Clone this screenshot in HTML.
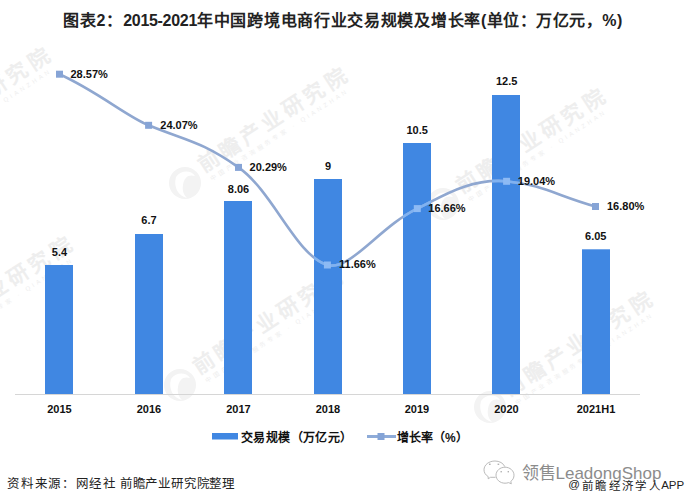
<!DOCTYPE html>
<html lang="zh-CN"><head><meta charset="utf-8">
<style>
html,body{margin:0;padding:0;background:#fff;}
body{width:686px;height:504px;overflow:hidden;position:relative;font-family:"Liberation Sans",sans-serif;}
svg{position:absolute;left:0;top:0;}
.t{position:absolute;white-space:nowrap;}
</style></head><body>
<svg width="686" height="504" viewBox="0 0 686 504">
<!-- watermarks -->
<defs>
<g id="wm">
<circle cx="0" cy="0" r="16" fill="#f3f3f3"/>
<path d="M-9,-6 C-4,-13 6,-13 10,-7 C4,-9 -1,-6 -2,2 C-3,8 -1,12 2,15 C-6,13 -12,5 -9,-6 Z" fill="#fff"/>
<g transform="rotate(-33)">
<text x="21" y="2" font-size="21" font-weight="bold" letter-spacing="4.2" fill="#eeeeee">前瞻产业研究院</text>
<text x="24" y="13" font-size="6" letter-spacing="3.2" fill="#eeeeee">中国产业咨询服务专家 · QIANZHAN</text>
</g>
</g>
</defs>
<use href="#wm" x="185" y="183"/>
<use href="#wm" x="443" y="204"/>
<use href="#wm" x="490" y="407"/>
<use href="#wm" x="180" y="385"/>
<use href="#wm" x="-112" y="163"/>
<use href="#wm" x="-90" y="352"/>
<!-- axis -->
<rect x="15" y="394" width="625" height="1" fill="#d6d6d6"/>
<!-- bars -->
<g fill="#4087e2">
<rect x="45" y="265" width="28" height="129"/>
<rect x="135" y="234" width="28" height="160"/>
<rect x="224" y="201" width="28" height="193"/>
<rect x="314" y="179" width="28" height="215"/>
<rect x="403" y="143" width="28" height="251"/>
<rect x="492" y="95" width="28" height="299"/>
<rect x="582" y="249.3" width="28" height="144.7"/>
</g>
<!-- line -->
<defs><clipPath id="cb"><rect x="45" y="265" width="28" height="129"/><rect x="135" y="234" width="28" height="160"/><rect x="224" y="201" width="28" height="193"/><rect x="314" y="179" width="28" height="215"/><rect x="403" y="143" width="28" height="251"/><rect x="492" y="95" width="28" height="299"/><rect x="582" y="249.3" width="28" height="144.7"/></clipPath></defs>
<path d="M59.5,74.2 C96.9,91.0 126.3,116.1 148.6,125.3 C186.4,140.9 200.7,140.9 238.5,167.4 C273.5,192.0 295.8,255.6 327.4,265.0 C349.9,271.7 379.5,226.6 417.3,208.6 C439.6,198.0 469.1,177.8 506.6,181.3 C543.1,184.7 558.2,196.3 595.5,206.5" fill="none" stroke="#8fa7d0" stroke-width="2.6"/>
<path d="M59.5,74.2 C96.9,91.0 126.3,116.1 148.6,125.3 C186.4,140.9 200.7,140.9 238.5,167.4 C273.5,192.0 295.8,255.6 327.4,265.0 C349.9,271.7 379.5,226.6 417.3,208.6 C439.6,198.0 469.1,177.8 506.6,181.3 C543.1,184.7 558.2,196.3 595.5,206.5" fill="none" stroke="#80b2f1" stroke-width="2.6" clip-path="url(#cb)"/>
<g fill="#86a4d6">
<rect x="56" y="70.7" width="7" height="7"/>
<rect x="145.1" y="121.8" width="7" height="7"/>
<rect x="235" y="163.9" width="7" height="7"/>
<rect x="592" y="203" width="7" height="7"/>
</g>
<g fill="#8dbaf4">
<rect x="323.9" y="261.5" width="7" height="7"/>
<rect x="413.8" y="205.1" width="7" height="7"/>
<rect x="503.1" y="177.8" width="7" height="7"/>
</g>
<!-- legend -->
<rect x="212" y="433" width="26" height="6.5" fill="#4087e2"/>
<rect x="367" y="435" width="29" height="3" fill="#8eabd8"/>
<rect x="377.5" y="433" width="7" height="7" fill="#84a3d6"/>
<!-- wechat icon -->
<g fill="none" stroke="#8a8a8a" stroke-width="0.9" opacity="0.65">
<path d="M495.5,477.3 L490.5,477.3 L488.2,478.8 L488.2,476.6 C485.5,475 484,472.5 484,469.8 C484,464.8 489,461 495,461 C499.5,461 503.3,463.2 504.8,466.6"/>
<path d="M505,467.2 C510,467.2 514,470.8 514,475.2 C514,477.8 512.8,480 510.8,481.4 L511.3,483.8 L508.6,482.6 C507.5,483 506.3,483.2 505,483.2 C500,483.2 496,479.6 496,475.2 C496,470.8 500,467.2 505,467.2 Z"/>
</g>
<g fill="#8a8a8a" opacity="0.65">
<rect x="489" y="463.6" width="1.6" height="1.4"/><rect x="497.6" y="463.6" width="1.6" height="1.4"/>
<rect x="500.5" y="471" width="1.4" height="1.4"/><rect x="507.6" y="471" width="1.4" height="1.4"/>
</g>
<!-- numeric labels -->
<g font-family="Liberation Sans" font-weight="bold" font-size="11" fill="#111" letter-spacing="0">
<text x="70.5" y="78">28.57%</text>
<text x="160.3" y="129">24.07%</text>
<text x="249.6" y="171">20.29%</text>
<text x="339" y="268.3">11.66%</text>
<text x="428.3" y="212.3">16.66%</text>
<text x="517.8" y="185.2">19.04%</text>
<text x="607" y="210">16.80%</text>
</g>
<g font-family="Liberation Sans" font-weight="bold" font-size="11" fill="#111" letter-spacing="0" text-anchor="middle">
<text x="59.5" y="255.6">5.4</text>
<text x="149" y="224.3">6.7</text>
<text x="238.5" y="192.5">8.06</text>
<text x="328" y="169.5">9</text>
<text x="417.2" y="133.6">10.5</text>
<text x="506.7" y="85.4">12.5</text>
<text x="595.8" y="240.3">6.05</text>
<text x="59.5" y="412.9">2015</text>
<text x="149" y="412.9">2016</text>
<text x="238.5" y="412.9">2017</text>
<text x="328" y="412.9">2018</text>
<text x="417" y="412.9">2019</text>
<text x="506.5" y="412.9">2020</text>
<text x="596" y="412.9">2021H1</text>
</g>
</svg>
<div class="t" style="left:62.7px;top:7px;font-size:16px;font-weight:bold;color:#222;"><span style="letter-spacing:0.9px">图表2：</span><span style="letter-spacing:-0.3px">2015-2021</span><span style="letter-spacing:0.7px">年中国跨境电商行业交易规模及增长率</span><span style="letter-spacing:0.5px">(单位：万亿元，%)</span></div>
<div class="t" style="left:241px;top:428px;font-size:12px;letter-spacing:0.4px;font-weight:bold;color:#111;">交易规模（万亿元）</div>
<div class="t" style="left:397px;top:428px;font-size:12px;font-weight:bold;color:#111;">增长率（%）</div>
<div class="t" style="left:7.3px;top:473px;font-size:12.5px;letter-spacing:0.7px;font-weight:400;color:#222;">资料来源：网经社</div>
<div class="t" style="left:119.8px;top:473px;font-size:12.5px;letter-spacing:-0.2px;font-weight:400;color:#222;">前瞻产业研究院整理</div>
<div class="t" style="left:521.5px;top:459px;font-size:17px;font-weight:300;color:#8c8c8c;">领售LeadongShop</div>
<div class="t" style="left:568.3px;top:477.5px;font-size:11.5px;font-weight:300;color:#222;">@</div>
<div class="t" style="left:581.8px;top:476.5px;font-size:11.5px;letter-spacing:2.4px;font-weight:300;color:#222;">前瞻经济学人</div>
<div class="t" style="left:661.2px;top:479px;font-size:11.5px;font-weight:300;color:#222;">APP</div>
</body></html>
